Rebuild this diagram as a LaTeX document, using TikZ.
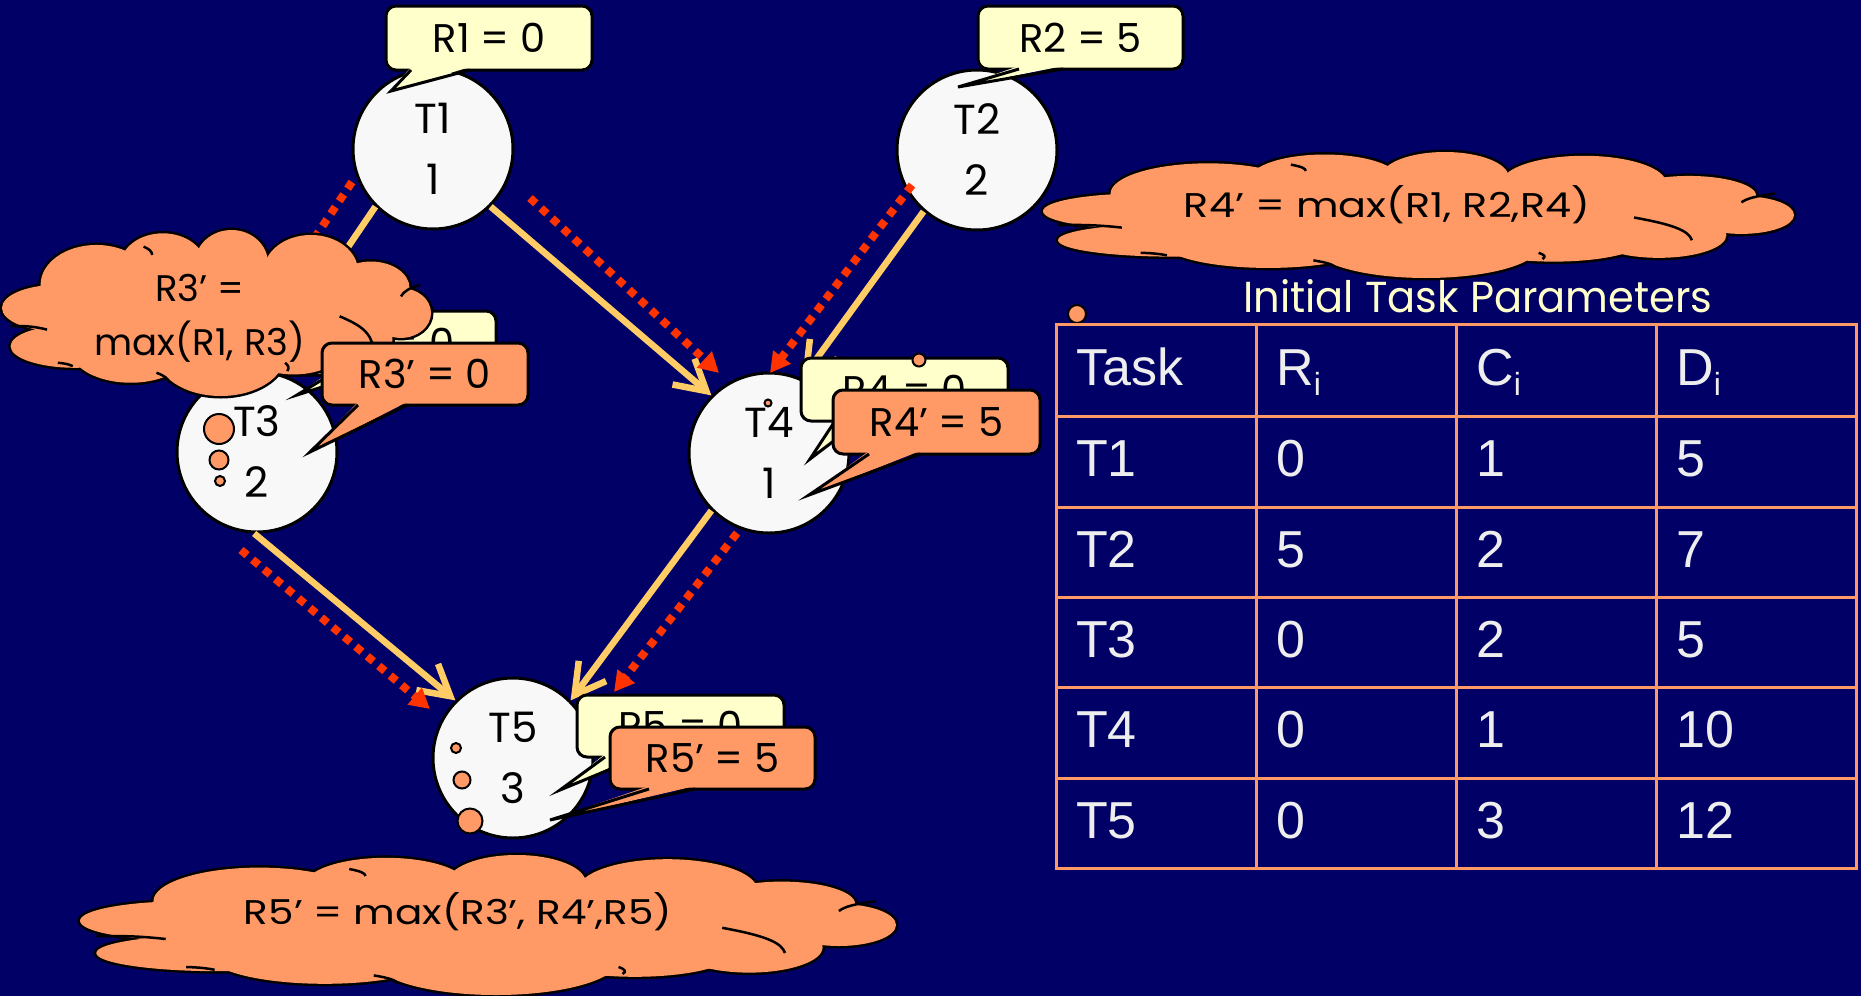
\documentclass[tikz,border=0pt]{standalone}
\usepackage{fontspec}
\usepackage{graphicx}
\usetikzlibrary{arrows.meta}
\newfontfamily\comic{Poppins}
\newfontfamily\tabfont{Liberation Sans}
\definecolor{bgnavy}{HTML}{000066}
\definecolor{edgeyellow}{HTML}{FFCC66}
\definecolor{edgered}{HTML}{FF3300}
\definecolor{orfill}{HTML}{FF9966}
\definecolor{lyellow}{HTML}{FFFFCC}
\definecolor{circfill}{HTML}{F8F8F8}
\definecolor{tabtext}{HTML}{EEEEEE}
\newcommand\mypuffs{0.13/0.47/0.13/0.14, 0.17/0.70/0.15/0.13, 0.22/0.33/0.13/0.24, 0.375/0.22/0.10/0.20, 0.535/0.20/0.085/0.20, 0.72/0.25/0.11/0.22, 0.86/0.35/0.09/0.16, 0.93/0.50/0.07/0.15, 0.82/0.66/0.09/0.18, 0.68/0.70/0.12/0.17, 0.51/0.75/0.15/0.25, 0.30/0.72/0.14/0.20, 0.50/0.50/0.30/0.25}
\newcommand\myfillers{0.76/0.48/0.14/0.20, 0.28/0.50/0.18/0.20, 0.85/0.52/0.08/0.14}
\newcommand\myarcs{0.02/0.58/0.105/0.60, 0.787/0.52/0.864/0.70, 0.93/0.40/0.975/0.33, 0.33/0.10/0.35/0.15, 0.36/0.86/0.39/0.92, 0.13/0.80/0.165/0.82, 0.66/0.80/0.665/0.85}
% #1 left, #2 top, #3 width, #4 height
\newcommand\mycloud[4]{%
  \begin{scope}[shift={(#1,#2)}, xscale=#3, yscale=#4]
    \foreach \ca/\cb/\cc/\cd in \mypuffs
      \draw[black, line width=5pt] (\ca,\cb) ellipse [x radius=\cc, y radius=\cd];
    \foreach \ca/\cb/\cc/\cd in \mypuffs
      \fill[orfill] (\ca,\cb) ellipse [x radius=\cc, y radius=\cd];
    \foreach \ca/\cb/\cc/\cd in \myfillers
      \fill[orfill] (\ca,\cb) ellipse [x radius=\cc, y radius=\cd];
    \foreach \ca/\cb/\cc/\cd in \myarcs
      \draw[black, line width=2.5pt] (\ca,\cb) to[bend left=20] (\cc,\cd);
  \end{scope}}
\begin{document}
\begin{tikzpicture}[x=1pt,y=-1pt,
  task/.style={circle, draw=black, line width=3pt, fill=circfill, minimum size=160pt, inner sep=0pt, align=center, font=\comic\fontsize{42}{61}\selectfont},
  ybox/.style={rectangle, rounded corners=10pt, draw=black, line width=3pt, fill=lyellow, inner sep=0pt, font=\comic\fontsize{40}{40}\selectfont},
  obox/.style={ybox, fill=orfill},
  ptr/.style={draw=black, line width=3pt, line join=miter},
  yedge/.style={draw=edgeyellow, line width=6.5pt, -{Straight Barb[length=30pt,width=34pt]}},
  redge/.style={draw=edgered, line width=8pt, dash pattern=on 8pt off 7pt, -{Triangle[length=20pt,width=21pt]}},
  ctext/.style={inner sep=0pt, text=black},
  bubble/.style={circle, draw=black, line width=2pt, fill=orfill, inner sep=0pt},
  tcell/.style={anchor=base west, inner sep=0pt, text=tabtext, font=\tabfont\fontsize{52}{52}\selectfont},
  tline/.style={draw=orfill, line width=3pt}
]
\useasboundingbox (0,0) rectangle (1861,996);
\fill[bgnavy] (0,0) rectangle (1861,996);

% task nodes
\node[task] (t1) at (433,149) {T1\\1};
\node[task] (t2) at (977,150) {T2\\2};
\node[task] (t3) at (257,452) {T3\\2};
\node[task] (t4) at (769,453) {T4\\1};
\node[task] (t5) at (513,758) {T5\\3};

% yellow precedence edges
\draw[yedge] (t1.225) -- (t3.85);
\draw[yedge] (t1.315) -- (t4.135);
\draw[yedge] (t2.229) -- (t4.66);
\draw[yedge] (t3.268) -- (t5.135);
\draw[yedge] (t4.225) -- (t5.45);

% red dotted propagation edges
\coordinate (a13) at (352,182); \coordinate (b13) at (225,372);
\coordinate (a14) at (530,198); \coordinate (b14) at (719,373);
\coordinate (a24) at (912,185); \coordinate (b24) at (770,373);
\coordinate (a35) at (241,550); \coordinate (b35) at (430,709);
\coordinate (a45) at (737,533); \coordinate (b45) at (614,692);
\draw[redge] (a13) -- (b13);
\draw[redge] (a14) -- (b14);
\draw[redge] (a24) -- (b24);
\draw[redge] (a35) -- (b35);
\draw[redge] (a45) -- (b45);

% yellow callouts
\node[ybox, minimum width=206pt, minimum height=64pt] (r1) at (489,38) {R1 = 0};
\fill[lyellow] (411,67) -- (391,91) -- (470,67) -- cycle;
\draw[ptr] (411,70) -- (391,91) -- (470,70);

\node[ybox, minimum width=205pt, minimum height=63pt] (r2) at (1080.5,37.5) {R2 = 5};
\fill[lyellow] (1019,66) -- (958,87) -- (1063,66) -- cycle;
\draw[ptr] (1019,69) -- (958,87) -- (1063,69);

\node[ybox, minimum width=206pt, minimum height=64pt] (r3) at (393,343) {R3 = 0};
\fill[lyellow] (330,372) -- (297,395) -- (360,372) -- cycle;
\draw[ptr] (330,375) -- (297,395) -- (360,375);

\node[ybox, minimum width=207pt, minimum height=63pt] (r4) at (904.5,389.5) {R4 = 0};
\fill[lyellow] (835,418) -- (810,459) -- (860,418) -- cycle;
\draw[ptr] (835,421) -- (810,459) -- (860,421);

\node[ybox, minimum width=207pt, minimum height=62pt] (r5) at (680.5,726) {R5 = 0};
\fill[lyellow] (605,754) -- (560,790) -- (640,754) -- cycle;
\draw[ptr] (605,757) -- (560,790) -- (640,757);

% clouds
\mycloud{2}{230}{429}{166}
\node[ctext, align=center, font=\comic\fontsize{37}{54}\selectfont] (c3t) at (200,318) {R3’ =\\max(R1, R3)};

\mycloud{1043}{152}{751}{126}
\node[ctext] (c4t) at (1387,205) {\resizebox{406pt}{32pt}{\comic R4’ = max(R1, R2,R4)}};

\mycloud{80}{855}{816}{140}
\node[ctext] (c5t) at (458,912) {\resizebox{428pt}{32pt}{\comic R5’ = max(R3’, R4’,R5)}};

% orange callouts
\node[obox, minimum width=206pt, minimum height=62pt] (q3) at (425,374) {R3’ = 0};
\fill[orfill] (358,402) -- (310,452) -- (407,402) -- cycle;
\draw[ptr] (358,405) -- (310,452) -- (407,405);

\node[obox, minimum width=207pt, minimum height=64pt] (q4) at (936.5,422) {R4’ = 5};
\fill[orfill] (869,451) -- (809,495) -- (920,451) -- cycle;
\draw[ptr] (869,454) -- (809,495) -- (920,454);

\node[obox, minimum width=205pt, minimum height=62pt] (q5) at (712.5,758) {R5’ = 5};
\fill[orfill] (649,786) -- (550,820) -- (695,786) -- cycle;
\draw[ptr] (649,789) -- (550,820) -- (695,789);

% cloud bubbles
\node[bubble, minimum size=30pt] (b31) at (219,429) {};
\node[bubble, minimum size=19pt] (b32) at (219,460) {};
\node[bubble, minimum size=10pt] (b33) at (220,481) {};
\node[bubble, minimum size=18pt] (b41) at (1077,314) {};
\node[bubble, minimum size=13pt] (b42) at (919,360) {};
\node[bubble, minimum size=7pt] (b43) at (768,403) {};
\node[bubble, minimum size=10pt] (b51) at (456,748) {};
\node[bubble, minimum size=17pt] (b52) at (462,780) {};
\node[bubble, minimum size=25pt] (b53) at (470,821) {};

% table
\node[inner sep=0pt, text=lyellow] (ttl) at (1478,296) {\resizebox{469pt}{33pt}{\comic Initial Task Parameters}};
\draw[tline] (1056,324) rectangle (1856,868);
\foreach \xx in {1256,1456,1656} \draw[tline] (\xx,324) -- (\xx,868);
\foreach \yy in {416,507,597,687,778} \draw[tline] (1056,\yy) -- (1856,\yy);
\node[tcell] (h1) at (1076,385) {Task};
\node[tcell] (h2) at (1276,385) {R\raisebox{-10pt}{\fontsize{32}{32}\selectfont i}};
\node[tcell] (h3) at (1476,385) {C\raisebox{-10pt}{\fontsize{32}{32}\selectfont i}};
\node[tcell] (h4) at (1676,385) {D\raisebox{-10pt}{\fontsize{32}{32}\selectfont i}};
\foreach \r/\a/\b/\c/\yy [count=\i] in {T1/0/1/5/476, T2/5/2/7/567, T3/0/2/5/657, T4/0/1/10/747, T5/0/3/12/838} {
  \node[tcell] (k\i a) at (1076,\yy) {\r};
  \node[tcell] (k\i b) at (1276,\yy) {\a};
  \node[tcell] (k\i c) at (1476,\yy) {\b};
  \node[tcell] (k\i d) at (1676,\yy) {\c};
}
\end{tikzpicture}
\end{document}
